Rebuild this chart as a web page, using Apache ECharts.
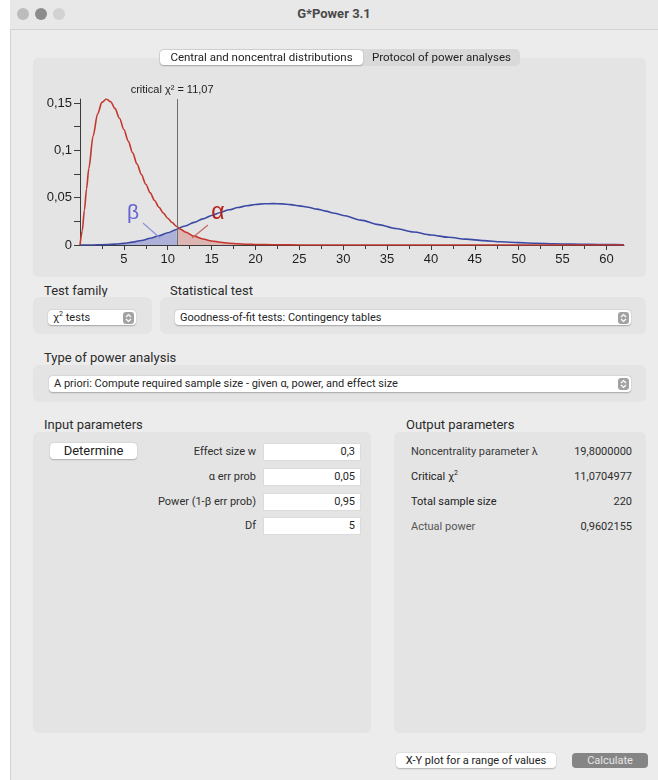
<!DOCTYPE html>
<html>
<head>
<meta charset="utf-8">
<script src="https://cdn.jsdelivr.net/npm/echarts@6/dist/echarts.min.js"></script>
<style>
  html, body { margin: 0; padding: 0; }
  body { width: 658px; height: 780px; background: #ffffff; position: relative; overflow: hidden;
         font-family: Roboto, "Liberation Sans", sans-serif; color: #262626; }
  .a { position: absolute; box-sizing: border-box; white-space: nowrap; }
  .lbl13 { font-size: 13px; line-height: 16px; color: #2b2b2b; }
  .group { background: #e4e4e4; border-radius: 6px; }
  .dd { background: #ffffff; border-radius: 4px; box-shadow: 0 0.5px 1.5px rgba(0,0,0,0.28);
        font-size: 11px; line-height: 15px; padding-left: 5px; color: #262626; }
  .step { position: absolute; right: 2px; top: 1.5px; width: 11px; height: 12px; background: #a2a2a2; border-radius: 3px; }
  .step svg { position: absolute; left: 0; top: 0; }
  .field { background: #ffffff; font-size: 11px; line-height: 16px; text-align: right; padding-right: 5px; color: #262626;
           box-shadow: 0 0 0 0.5px rgba(0,0,0,0.08); }
  .rl { font-size: 11px; line-height: 16px; text-align: right; color: #2e2e2e; }
  .ol { font-size: 11px; line-height: 16px; color: #222; }
  .ov { font-size: 11px; line-height: 16px; text-align: right; color: #2e2e2e; }
  .btn { background: #ffffff; border-radius: 4px; box-shadow: 0 0.5px 1.5px rgba(0,0,0,0.25); text-align: center; }
</style>
</head>
<body>
<!-- window -->
<div class="a" style="left:10px;top:0;width:648px;height:780px;background:#ececec;border-left:1px solid #d2d2d2;"></div>
<div class="a" style="left:10px;top:0;width:648px;height:30px;background:#e8e8e8;border-bottom:1px solid #d3d3d3;"></div>
<div class="a" style="left:17px;top:8px;width:12px;height:12px;border-radius:6px;background:#bcbcbc;"></div>
<div class="a" style="left:35px;top:8px;width:12px;height:12px;border-radius:6px;background:#8c8c8c;"></div>
<div class="a" style="left:53px;top:8px;width:12px;height:12px;border-radius:6px;background:#d2d2d2;"></div>
<div class="a" style="left:10px;top:5px;width:648px;text-align:center;font-weight:bold;font-size:13px;line-height:18px;color:#4a4a4a;">G*Power 3.1</div>

<!-- chart panel -->
<div class="a group" style="left:33px;top:58px;width:613px;height:219px;border-radius:5px;"></div>
<div id="chart" class="a" style="left:33px;top:58px;width:613px;height:219px;"></div>

<!-- tabs -->
<div class="a" style="left:159px;top:49px;width:361px;height:17px;background:#d9d9d9;border-radius:5px;"></div>
<div class="a" style="left:160px;top:50px;width:203px;height:15px;background:#ffffff;border-radius:4px;box-shadow:0 0.5px 1.5px rgba(0,0,0,0.25);"></div>
<div class="a" style="left:160px;top:50px;width:203px;text-align:center;font-size:11.5px;line-height:15px;color:#222;">Central and noncentral distributions</div>
<div class="a" style="left:363px;top:50px;width:157px;text-align:center;font-size:11.5px;line-height:15px;color:#222;">Protocol of power analyses</div>

<!-- test family -->
<div class="a lbl13" style="left:44px;top:283px;">Test family</div>
<div class="a group" style="left:33px;top:297px;width:119px;height:37px;"></div>
<div class="a dd" style="left:48px;top:310px;width:88px;height:15px;">χ<sup style="font-size:7px;line-height:0;">2</sup> tests<div class="step"><svg width="11" height="12"><polyline points="3,5 5.5,2.5 8,5" fill="none" stroke="#fff" stroke-width="1.2"/><polyline points="3,7 5.5,9.5 8,7" fill="none" stroke="#fff" stroke-width="1.2"/></svg></div></div>

<div class="a lbl13" style="left:170px;top:283px;">Statistical test</div>
<div class="a group" style="left:160px;top:297px;width:486px;height:37px;"></div>
<div class="a dd" style="left:175px;top:310px;width:456px;height:15px;">Goodness-of-fit tests: Contingency tables<div class="step"><svg width="11" height="12"><polyline points="3,5 5.5,2.5 8,5" fill="none" stroke="#fff" stroke-width="1.2"/><polyline points="3,7 5.5,9.5 8,7" fill="none" stroke="#fff" stroke-width="1.2"/></svg></div></div>

<div class="a lbl13" style="left:44px;top:350px;">Type of power analysis</div>
<div class="a group" style="left:33px;top:365px;width:613px;height:37px;"></div>
<div class="a dd" style="left:49px;top:376px;width:582px;height:16px;line-height:16px;">A priori: Compute required sample size - given α, power, and effect size<div class="step" style="top:2px;"><svg width="11" height="12"><polyline points="3,5 5.5,2.5 8,5" fill="none" stroke="#fff" stroke-width="1.2"/><polyline points="3,7 5.5,9.5 8,7" fill="none" stroke="#fff" stroke-width="1.2"/></svg></div></div>

<!-- input parameters -->
<div class="a lbl13" style="left:44px;top:417px;">Input parameters</div>
<div class="a group" style="left:33px;top:432px;width:338px;height:301px;"></div>
<div class="a btn" style="left:50px;top:443px;width:87px;height:16px;font-size:13px;line-height:16px;color:#222;">Determine</div>

<div class="a rl" style="left:120px;top:444px;width:136px;">Effect size w</div>
<div class="a rl" style="left:120px;top:469px;width:136px;">α err prob</div>
<div class="a rl" style="left:120px;top:494px;width:136px;">Power (1-β err prob)</div>
<div class="a rl" style="left:120px;top:518px;width:136px;">Df</div>
<div class="a field" style="left:264px;top:444px;width:96px;height:16px;">0,3</div>
<div class="a field" style="left:264px;top:469px;width:96px;height:16px;">0,05</div>
<div class="a field" style="left:264px;top:494px;width:96px;height:16px;">0,95</div>
<div class="a field" style="left:264px;top:518px;width:96px;height:16px;">5</div>

<!-- output parameters -->
<div class="a lbl13" style="left:406px;top:417px;">Output parameters</div>
<div class="a group" style="left:394px;top:432px;width:252px;height:301px;"></div>
<div class="a ol" style="left:411px;top:444px;color:#3a3a3a;">Noncentrality parameter λ</div>
<div class="a ol" style="left:411px;top:469px;">Critical χ<sup style="font-size:7px;line-height:0;">2</sup></div>
<div class="a ol" style="left:411px;top:494px;">Total sample size</div>
<div class="a ol" style="left:411px;top:519px;color:#555;">Actual power</div>
<div class="a ov" style="left:532px;top:444px;width:100px;">19,8000000</div>
<div class="a ov" style="left:532px;top:469px;width:100px;">11,0704977</div>
<div class="a ov" style="left:532px;top:494px;width:100px;">220</div>
<div class="a ov" style="left:532px;top:519px;width:100px;">0,9602155</div>

<!-- bottom buttons -->
<div class="a btn" style="left:396px;top:753px;width:160px;height:15px;font-size:11px;line-height:15px;color:#222;">X-Y plot for a range of values</div>
<div class="a" style="left:572px;top:753px;width:76px;height:15px;background:#858585;border-radius:4px;text-align:center;font-size:11px;line-height:15px;color:#e6e6e6;">Calculate</div>

<script>
// ---- data ----
const critical = 11.07;
const criticalLabel = 'critical χ² = 11,07';

// central chi-square (df = 5), red
const redX = [0, 0.25, 0.5, 0.75, 1, 1.5, 2, 2.5, 3, 3.5, 4, 4.5, 5, 5.5, 6, 6.5, 7, 7.5, 8, 8.5, 9, 9.5, 10, 10.5, 11, 11.07, 11.5, 12, 13, 14, 15, 16, 17, 18, 19, 20, 22, 24, 26, 28, 30, 62];
const redY = [0, 0.0147, 0.0366, 0.0594, 0.0807, 0.1154, 0.1384, 0.1506, 0.1542, 0.1513, 0.1440, 0.1338, 0.1220, 0.1097, 0.0973, 0.0855, 0.0744, 0.0642, 0.0551, 0.0470, 0.0399, 0.0337, 0.0283, 0.0237, 0.0198, 0.0193, 0.0165, 0.0137, 0.0094, 0.0064, 0.0043, 0.0029, 0.0019, 0.0013, 0.0008, 0.0005, 0.0002, 0.0001, 0.00004, 0.00002, 0.00001, 0];

// noncentral chi-square (df = 5, lambda = 19.8), blue
const blueX = [0, 1, 2, 3, 4, 5, 6, 7, 8, 9, 10, 11, 11.07, 12, 13, 14, 15, 16, 17, 18, 19, 20, 21, 22, 23, 24, 25, 26, 27, 28, 29, 30, 32, 34, 36, 38, 40, 42, 44, 46, 48, 50, 52, 54, 56, 58, 60, 62];
const blueY = [0, 0.00002, 0.00012, 0.00038, 0.00089, 0.00175, 0.00303, 0.00479, 0.00705, 0.00978, 0.01292, 0.01640, 0.01667, 0.02012, 0.02388, 0.02757, 0.03112, 0.03437, 0.03723, 0.03960, 0.04146, 0.04278, 0.04352, 0.04370, 0.04345, 0.04263, 0.04135, 0.03980, 0.03792, 0.03582, 0.03354, 0.03121, 0.02626, 0.02157, 0.01735, 0.01369, 0.01060, 0.00816, 0.00618, 0.00463, 0.00342, 0.00253, 0.00184, 0.00132, 0.00095, 0.00067, 0.00048, 0.00034];

// axis ticks
const xTickLabels = [5, 10, 15, 20, 25, 30, 35, 40, 45, 50, 55, 60];
const xMinorTicks = [2.5, 7.5, 12.5, 17.5, 22.5, 27.5, 32.5, 37.5, 42.5, 47.5, 52.5, 57.5];
const yTickLabels = [0, 0.05, 0.1, 0.15];
const yMinorTicks = [0.025, 0.075, 0.125];
const xMax = 62;

// annotations (data coordinates)
const betaText = [6.04, 0.0338];
const alphaText = [15.73, 0.0338];
const betaPointer = [[7.18, 0.0233], [9.12, 0.0074]];
const alphaPointer = [[14.59, 0.0211], [12.77, 0.0074]];

// ---- build ----
const zip = (xs, ys) => xs.map((x, i) => [x, ys[i]]);
const redData = zip(redX, redY);
const blueData = zip(blueX, blueY);
const yMax = Math.max.apply(null, redY);
const axisColor = '#3c3c3c';
const chartFont = '"Liberation Sans", Arial, sans-serif';
const fmt = v => (v === 0 ? '0' : String(v).replace('.', ','));

const chart = echarts.init(document.getElementById('chart'), null, { renderer: 'canvas' });
chart.setOption({
  animation: false,
  grid: { left: 47, right: 22, top: 41, bottom: 32, containLabel: false },
  xAxis: [
    { type: 'value', min: 0, max: xMax, position: 'bottom',
      axisLine: { show: true, onZero: false, lineStyle: { color: axisColor, width: 1 } },
      axisTick: { show: true, customValues: xTickLabels, length: 5, lineStyle: { color: axisColor } },
      axisLabel: { show: true, customValues: xTickLabels, formatter: fmt, fontSize: 13, color: '#1e1e1e', margin: 8, fontFamily: chartFont },
      splitLine: { show: false } },
    { type: 'value', min: 0, max: xMax, position: 'bottom',
      axisLine: { show: false },
      axisTick: { show: true, customValues: xMinorTicks, length: 4, lineStyle: { color: axisColor } },
      axisLabel: { show: false }, splitLine: { show: false } }
  ],
  yAxis: [
    { type: 'value', min: 0, max: yMax, position: 'left',
      axisLine: { show: true, onZero: false, lineStyle: { color: axisColor, width: 1 } },
      axisTick: { show: true, customValues: yTickLabels, length: 6, lineStyle: { color: axisColor } },
      axisLabel: { show: true, customValues: yTickLabels, formatter: fmt, fontSize: 13, color: '#1e1e1e', margin: 8, fontFamily: chartFont },
      splitLine: { show: false } },
    { type: 'value', min: 0, max: yMax, position: 'left',
      axisLine: { show: false },
      axisTick: { show: true, customValues: yMinorTicks, length: 6, lineStyle: { color: axisColor } },
      axisLabel: { show: false }, splitLine: { show: false } }
  ],
  series: [
    { name: 'beta area', type: 'line', xAxisIndex: 0, yAxisIndex: 0,
      data: blueData.filter(p => p[0] <= critical), showSymbol: false, symbol: 'none',
      smooth: 0.3, smoothMonotone: 'x', lineStyle: { width: 0 },
      areaStyle: { color: '#6b74c8', opacity: 0.45 }, z: 1, silent: true },
    { name: 'alpha area', type: 'line', xAxisIndex: 0, yAxisIndex: 0,
      data: redData.filter(p => p[0] >= critical), showSymbol: false, symbol: 'none',
      smooth: 0.3, smoothMonotone: 'x', lineStyle: { width: 0 },
      areaStyle: { color: '#d0605a', opacity: 0.35 }, z: 1, silent: true },
    { name: 'noncentral', type: 'line', xAxisIndex: 0, yAxisIndex: 0,
      data: blueData, showSymbol: false, symbol: 'none', smooth: 0.3, smoothMonotone: 'x',
      lineStyle: { color: '#3d4aa3', width: 1.6 }, z: 3 },
    { name: 'central', type: 'line', xAxisIndex: 0, yAxisIndex: 0,
      data: redData, showSymbol: false, symbol: 'none', smooth: 0.3, smoothMonotone: 'x',
      lineStyle: { color: '#c4362c', width: 1.6 }, z: 4,
      markLine: {
        silent: true, symbol: ['none', 'none'], animation: false,
        data: [
          { xAxis: critical, lineStyle: { color: '#6e6e6e', width: 1, type: 'solid' },
            label: { show: true, position: 'end', formatter: criticalLabel, fontSize: 11, color: '#222',
                     fontFamily: chartFont, distance: 4, padding: [0, 10, 0, 0] } },
          [ { coord: betaPointer[0], lineStyle: { color: '#8f92d6', width: 1.2, type: 'solid' }, label: { show: false } },
            { coord: betaPointer[1] } ],
          [ { coord: alphaPointer[0], lineStyle: { color: '#c46a62', width: 1.2, type: 'solid' }, label: { show: false } },
            { coord: alphaPointer[1] } ]
        ]
      },
      markPoint: {
        silent: true, animation: false, symbol: 'circle', symbolSize: 1,
        itemStyle: { color: 'rgba(0,0,0,0)' },
        data: [
          { coord: betaText, label: { show: true, position: 'inside', formatter: 'β', fontSize: 21, color: '#6565d2', fontFamily: chartFont } },
          { coord: alphaText, label: { show: true, position: 'inside', formatter: 'α', fontSize: 23, color: '#b3201e', fontFamily: chartFont } }
        ]
      } }
  ]
});
</script>
</body>
</html>
